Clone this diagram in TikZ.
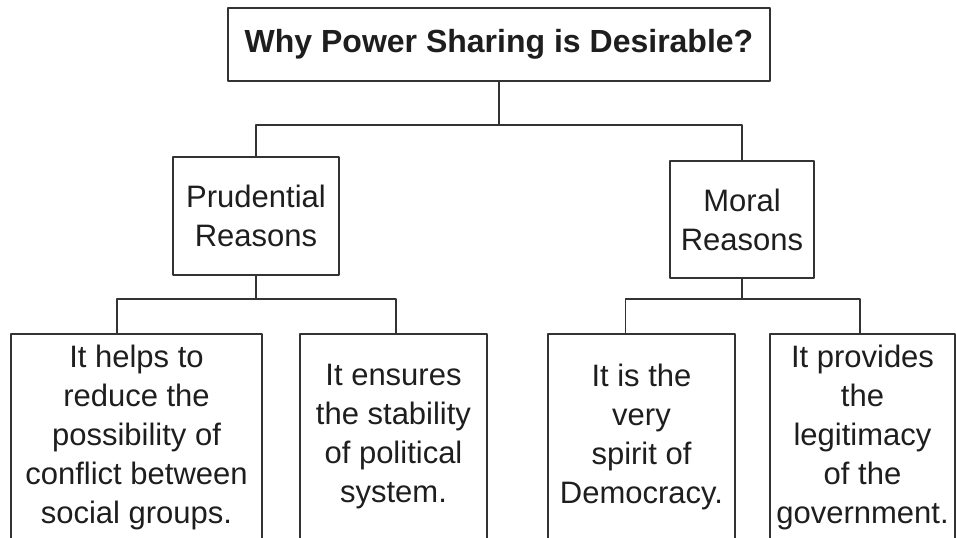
\documentclass[tikz,border=0pt]{standalone}
\usepackage{fontspec}
\setmainfont{Liberation Sans}
\definecolor{inkline}{HTML}{333333}
\definecolor{inktext}{HTML}{1E1E1E}
\begin{document}
\begin{tikzpicture}[x=1pt,y=-1pt, line join=round, line cap=round, line width=1.4pt, color=inkline,
  box/.style={draw, rectangle, inner sep=0pt, align=center, text=inktext, font=\fontsize{31}{39}\selectfont},
  headbox/.style={box, font=\fontsize{32}{39}\selectfont\bfseries},
  leaf/.style={box, minimum height=206pt}]
\useasboundingbox (0,0) rectangle (956,538);
\clip (0,0) rectangle (956,538);
% boxes
\node[headbox, minimum width=542pt, minimum height=73pt] (why) at (499,44.5) {Why Power Sharing is Desirable?};
\node[box, minimum width=166pt, minimum height=118pt] (prud) at (256,216) {Prudential\\Reasons};
\node[box, minimum width=144pt, minimum height=117pt] (moral) at (742,219.5) {Moral\\Reasons};
\node[leaf, minimum width=251pt] (conflict) at (136.5,437) {It helps to\\reduce the\\possibility of\\conflict between\\social groups.};
\node[leaf, minimum width=187pt] (stability) at (393.5,437) {It ensures\\the stability\\of political\\system.};
\node[leaf, minimum width=187pt] (spirit) at (641.5,437) {It is the\\very\\spirit of\\Democracy.};
\node[leaf, minimum width=185pt] (legit) at (862.5,437) {It provides\\the\\legitimacy\\of the\\government.};
% joints
\coordinate (topbar) at (499,125);
\coordinate (prudbar) at (256,299);
\coordinate (moralbar) at (742,299);
\coordinate (conflictfoot) at (conflict.north -| 117,0);
\coordinate (stabilityfoot) at (stability.north -| 396,0);
\coordinate (spiritfoot) at (spirit.north -| 625.7,0);
\coordinate (legitfoot) at (legit.north -| 860,0);
% connectors
\draw (why.south) -- (topbar);
\draw (prud.north) |- (topbar) -| (moral.north);
\draw (prud.south) -- (prudbar);
\draw (conflictfoot) |- (prudbar) -| (stabilityfoot);
\draw (moral.south) -- (moralbar);
\draw (spiritfoot) |- (moralbar) -| (legitfoot);
\end{tikzpicture}
\end{document}
